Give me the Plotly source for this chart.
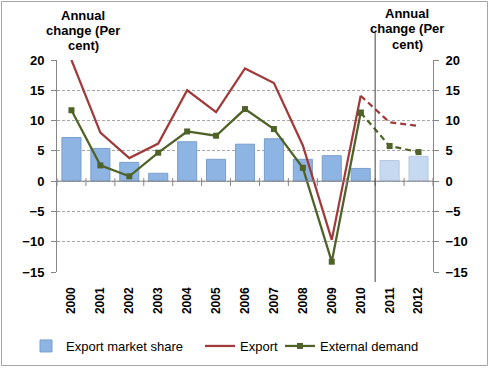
import plotly.graph_objects as go

years = ["2000", "2001", "2002", "2003", "2004", "2005", "2006",
         "2007", "2008", "2009", "2010", "2011", "2012"]
market_share = [7.2, 5.4, 3.1, 1.3, 6.5, 3.6, 6.1, 7.0, 3.6, 4.2, 2.1, 3.4, 4.1]
export = [20.0, 8.0, 3.8, 6.2, 15.0, 11.4, 18.6, 16.2, 5.9, -9.7, 14.1, 9.7, 9.1]
external_demand = [11.7, 2.6, 0.8, 4.7, 8.2, 7.5, 11.9, 8.6, 2.2, -13.3, 11.3, 5.8, 4.8]
n_actual = 11  # 2000-2010 actual, 2011-2012 forecast
y_ticks = [-15, -10, -5, 0, 5, 10, 15, 20]
title_lines = ["Annual", "change (Per", "cent)"]

FONT = "Arial, Liberation Sans, sans-serif"
RED = "#A13B3B"
GREEN = "#4F6228"
BAR = "#8DB4E2"
BAR_LIGHT = "#C6D9F1"

bar_colors = [BAR if i < n_actual else BAR_LIGHT for i in range(len(years))]
bar_lines = ["#7A9FCC" if i < n_actual else "#B4C8E2" for i in range(len(years))]

fig = go.Figure()
fig.add_trace(go.Bar(
    x=years, y=market_share, name="Export market share", legend="legend",
    marker=dict(color=bar_colors, line=dict(color=bar_lines, width=1)),
    width=0.66,
))
fig.add_trace(go.Scatter(
    x=years[:n_actual], y=export[:n_actual], name="Export", mode="lines",
    legend="legend2", line=dict(color=RED, width=2.25),
))
fig.add_trace(go.Scatter(
    x=years[:n_actual], y=external_demand[:n_actual], name="External demand",
    legend="legend3", mode="lines+markers", line=dict(color=GREEN, width=2.25),
    marker=dict(symbol="square", size=6, color=GREEN),
))
fig.add_trace(go.Scatter(
    x=years[n_actual - 1:], y=export[n_actual - 1:], mode="lines", showlegend=False,
    line=dict(color=RED, width=2.25, dash="6px,4px"), yaxis="y2",
))
fig.add_trace(go.Scatter(
    x=years[n_actual - 1:], y=external_demand[n_actual - 1:], mode="lines+markers",
    showlegend=False, line=dict(color=GREEN, width=2.25, dash="6px,4px"),
    marker=dict(symbol="square", size=6, color=GREEN), yaxis="y2",
))

L, R, T, B = 57, 57, 60, 96
W, H = 490, 368
pw, ph = W - L - R, H - T - B


def px_x(p):
    return (p - L) / pw


def px_y(p):
    return (H - B - p) / ph


shapes = []
# zero axis line with tick marks between categories
shapes.append(dict(type="line", xref="paper", yref="y", x0=0, x1=1, y0=0, y1=0,
                   line=dict(color="#868686", width=1), layer="above"))
for i in range(len(years) + 1):
    shapes.append(dict(type="line", xref="x", yref="y", x0=i - 0.5, x1=i - 0.5,
                       y0=-0.8, y1=0.5, line=dict(color="#868686", width=1)))
# divider between actual and forecast
shapes.append(dict(type="line", xref="x", yref="paper", x0=n_actual - 0.5, x1=n_actual - 0.5,
                   y0=px_y(282), y1=px_y(33), line=dict(color="#404040", width=1)))
# chart border
shapes.append(dict(type="rect", xref="paper", yref="paper",
                   x0=px_x(1.5), x1=px_x(487.5), y0=px_y(365.5), y1=px_y(1.5),
                   line=dict(color="#A6A6A6", width=1)))

title_font = dict(family=FONT, size=13, color="#000000", weight="bold")
annotations = []
for cx, top in ((83, 15), (407, 13)):
    for k, line in enumerate(title_lines):
        annotations.append(dict(
            text=line, xref="paper", yref="paper", x=px_x(cx), y=px_y(top + 15.5 * k),
            xanchor="center", yanchor="middle", showarrow=False, font=title_font))

axis_font = dict(family=FONT, size=13, color="#000000", weight="bold")


def legend_at(px_left):
    return dict(orientation="h", xref="container", yref="container",
                x=px_left / W, xanchor="left", y=(H - 346) / H, yanchor="middle",
                font=dict(family=FONT, size=13, color="#000000"),
                itemwidth=30, bgcolor="rgba(0,0,0,0)")


fig.update_layout(
    width=W, height=H,
    margin=dict(l=L, r=R, t=T, b=B, autoexpand=False),
    paper_bgcolor="white", plot_bgcolor="white",
    font=dict(family=FONT, size=13, color="#000000"),
    showlegend=True,
    legend=legend_at(26),
    legend2=legend_at(200),
    legend3=legend_at(280),
    bargap=0.34,
    xaxis=dict(type="category", range=[-0.5, len(years) - 0.5], showgrid=False,
               showline=False, zeroline=False, ticks="", tickangle=-90,
               tickfont=dict(family=FONT, size=12, color="#000000", weight="bold"),
               ticklabelstandoff=12, automargin=False),
    yaxis=dict(range=[-15, 20], tickvals=y_ticks, showgrid=True, gridcolor="#A6A6A6",
               griddash="3px,2px", gridwidth=1, zeroline=False, showline=True,
               linecolor="#868686", linewidth=1, ticks="outside", ticklen=5,
               tickcolor="#868686", tickfont=axis_font, ticklabelstandoff=4,
               automargin=False),
    yaxis2=dict(range=[-15, 20], tickvals=y_ticks, overlaying="y", side="right",
                showgrid=False, zeroline=False, showline=True, linecolor="#868686",
                linewidth=1, ticks="outside", ticklen=5, tickcolor="#868686",
                tickfont=axis_font, ticklabelstandoff=4, automargin=False),
    shapes=shapes,
    annotations=annotations,
)

fig.write_html("out.html", config={"displayModeBar": False},
               post_script="document.body.style.margin='0';document.body.style.overflow='hidden';")
